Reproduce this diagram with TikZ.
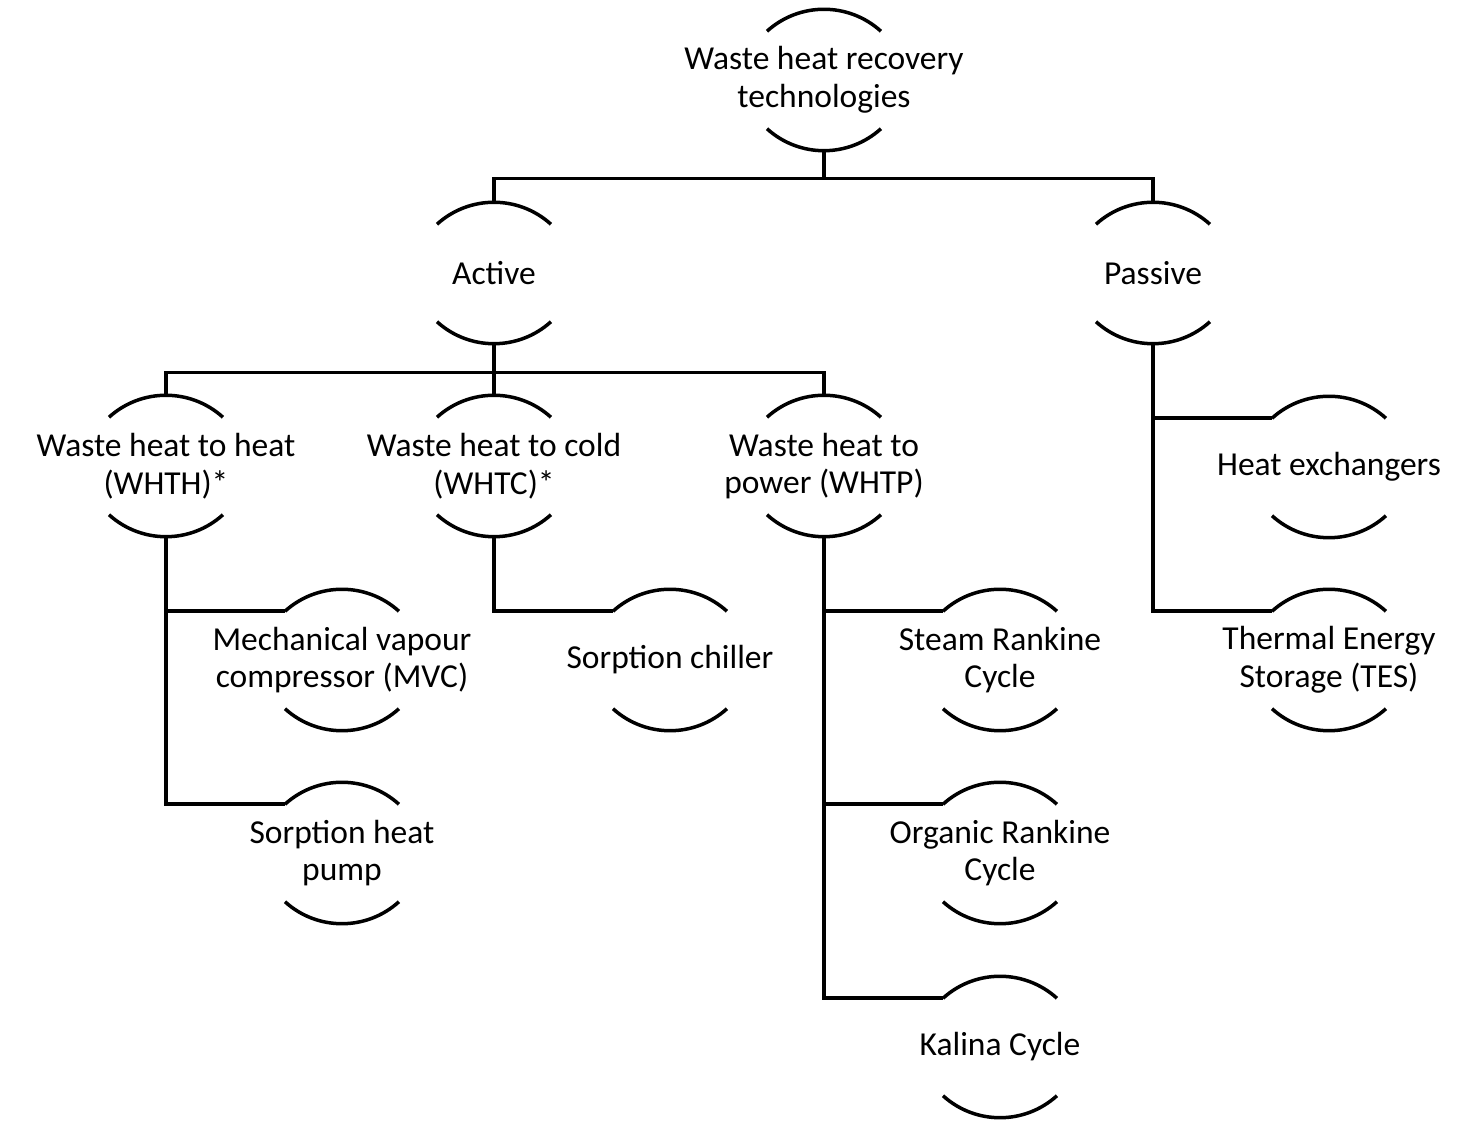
\documentclass[tikz,border=0pt]{standalone}
\usepackage{fontspec}
\setmainfont{Carlito}
\usetikzlibrary{calc}

\begin{document}
\begin{tikzpicture}[x=1pt,y=1pt,line width=3.5pt]

%Define arc parameters
\def\hw{57}        %Half width of the arcs.
\def\sag{22}       %Height of the arcs.
\def\rad{84.8}     %Radius of the arcs.
\tikzset{tech/.style={minimum height=138pt,minimum width=114pt,inner sep=0pt,align=center,
  font=\fontsize{33.5}{37.5}\selectfont}}

\useasboundingbox (0,0) rectangle (1483,1134);

% Technologies
\node[tech] (root) at (824,1054) {Waste heat recovery\\technologies};
\node[tech] (act)  at (494,861)  {Active};
\node[tech] (pas)  at (1153,861) {Passive};
\node[tech] (whth) at (166,668)  {Waste heat to heat\\(WHTH)*};
\node[tech] (whtc) at (494,668)  {Waste heat to cold\\(WHTC)*};
\node[tech] (whtp) at (824,668)  {Waste heat to\\power (WHTP)};
\node[tech] (mvc)  at (342,474)  {Mechanical vapour\\compressor (MVC)};
\node[tech] (shp)  at (342,281)  {Sorption heat\\pump};
\node[tech] (sch)  at (670,474)  {Sorption chiller};
\node[tech] (src)  at (1000,474) {Steam Rankine\\Cycle};
\node[tech] (orc)  at (1000,281) {Organic Rankine\\Cycle};
\node[tech] (kal)  at (1000,87)  {Kalina Cycle};
\node[tech] (hex)  at (1329,667) {Heat exchangers};
\node[tech] (tes)  at (1329,474) {Thermal Energy\\Storage (TES)};

% Arcs above and below each label
\foreach \n in {root,act,pas,whth,whtc,whtp,mvc,shp,sch,src,orc,kal,hex,tes}{
  \draw ($(\n.north)+(-\hw,-\sag)$) arc[start angle=132.2,end angle=47.8,radius=\rad];
  \draw ($(\n.south)+(-\hw,\sag)$) arc[start angle=227.8,end angle=312.2,radius=\rad];
}

% Define bus coordinates
\coordinate (bus1) at ($(root.south)+(0,-28)$);
\coordinate (bus2) at ($(act.south)+(0,-29)$);

% Top level
\draw (root.south) -- (bus1);
\draw (act.north) -- (act.north |- bus1) -- (pas.north |- bus1) -- (pas.north);

% Active
\draw (act.south) -- (whtc.north);
\draw (whth.north) -- (whth.north |- bus2) -- (whtp.north |- bus2) -- (whtp.north);

% Side branches
\draw (whth.south) |- ($(mvc.north)+(-\hw,-\sag)$);
\draw (whth.south) |- ($(shp.north)+(-\hw,-\sag)$);
\draw (whtc.south) |- ($(sch.north)+(-\hw,-\sag)$);
\draw (whtp.south) |- ($(src.north)+(-\hw,-\sag)$);
\draw (whtp.south) |- ($(orc.north)+(-\hw,-\sag)$);
\draw (whtp.south) |- ($(kal.north)+(-\hw,-\sag)$);
\draw (pas.south) |- ($(hex.north)+(-\hw,-\sag)$);
\draw (pas.south) |- ($(tes.north)+(-\hw,-\sag)$);

\end{tikzpicture}
\end{document}
